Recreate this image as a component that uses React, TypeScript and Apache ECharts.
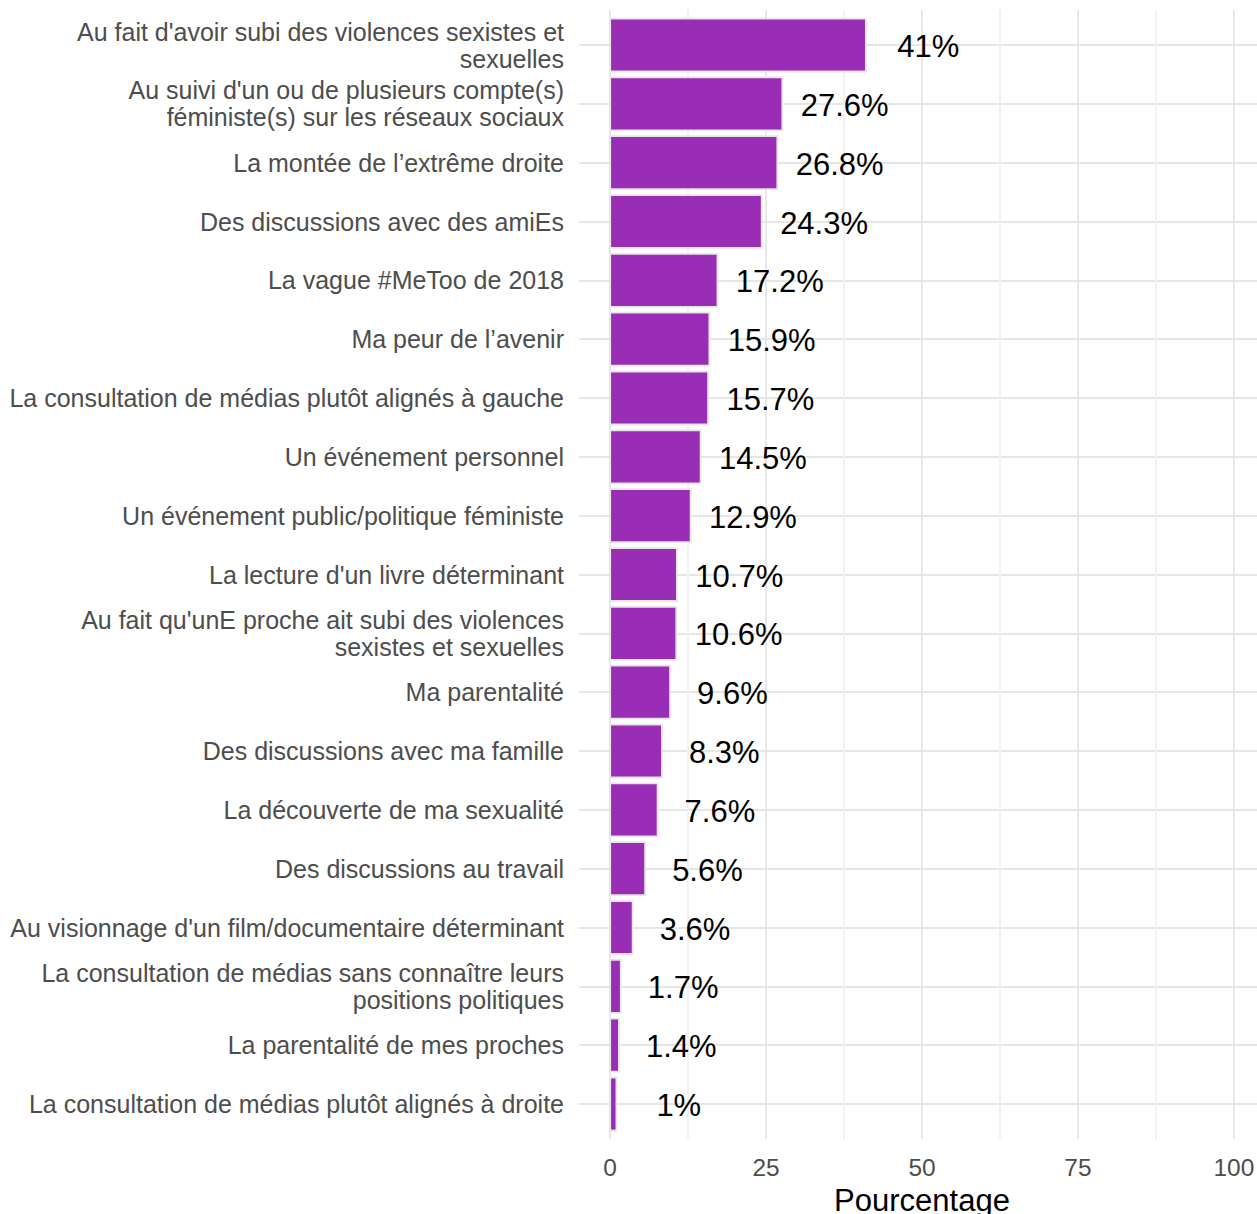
import React, { useEffect, useRef } from "react";
import * as echarts from "echarts";

const categories: string[] = [
  "Au fait d'avoir subi des violences sexistes et\nsexuelles",
  "Au suivi d'un ou de plusieurs compte(s)\nféministe(s) sur les réseaux sociaux",
  "La montée de l’extrême droite",
  "Des discussions avec des amiEs",
  "La vague #MeToo de 2018",
  "Ma peur de l’avenir",
  "La consultation de médias plutôt alignés à gauche",
  "Un événement personnel",
  "Un événement public/politique féministe",
  "La lecture d'un livre déterminant",
  "Au fait qu'unE proche ait subi des violences\nsexistes et sexuelles",
  "Ma parentalité",
  "Des discussions avec ma famille",
  "La découverte de ma sexualité",
  "Des discussions au travail",
  "Au visionnage d'un film/documentaire déterminant",
  "La consultation de médias sans connaître leurs\npositions politiques",
  "La parentalité de mes proches",
  "La consultation de médias plutôt alignés à droite",
];

const values: number[] = [
  41, 27.6, 26.8, 24.3, 17.2, 15.9, 15.7, 14.5, 12.9, 10.7, 10.6, 9.6, 8.3, 7.6,
  5.6, 3.6, 1.7, 1.4, 1,
];

const xMajorTicks: number[] = [0, 25, 50, 75, 100];
const xGridTicks: number[] = [0, 12.5, 25, 37.5, 50, 62.5, 75, 87.5, 100];
const yPositions: number[] = categories.map((_, i) => i + 1);

const LABEL_NUDGE = 10;
const FONT = "'Liberation Sans', Arial, sans-serif";

export default function App() {
  const ref = useRef<HTMLDivElement>(null);

  useEffect(() => {
    if (!ref.current) return;
    const chart = echarts.init(ref.current, undefined, { renderer: "svg" });
    const data = values.map((v, i) => [v, yPositions[i]]);
    chart.setOption({
      animation: false,
      backgroundColor: "#ffffff",
      textStyle: { fontFamily: FONT },
      grid: {
        left: 579,
        right: -8,
        top: 9.7,
        bottom: 74.7,
        containLabel: false,
        outerBoundsMode: "none",
      },
      xAxis: {
        type: "value",
        min: -5,
        max: 105,
        name: "Pourcentage",
        nameLocation: "middle",
        nameGap: 42,
        nameTextStyle: { fontSize: 31, color: "#000000", fontFamily: FONT },
        axisLine: { show: false },
        axisTick: { show: false, customValues: xGridTicks },
        axisLabel: {
          customValues: xMajorTicks,
          fontSize: 24.5,
          color: "#4d4d4d",
          margin: 16,
          fontFamily: FONT,
        },
        splitLine: {
          show: true,
          lineStyle: { color: ["#e6e6e6", "#f1f1f1"], width: 1.8 },
        },
      },
      yAxis: {
        type: "value",
        inverse: true,
        min: 0.4,
        max: 19.6,
        axisLine: { show: false },
        axisTick: { show: false, customValues: yPositions },
        axisLabel: {
          customValues: yPositions,
          formatter: (v: number) => categories[Math.round(v) - 1] ?? "",
          fontSize: 25,
          lineHeight: 27,
          color: "#4d4d4d",
          align: "right",
          margin: 15,
          fontFamily: FONT,
        },
        splitLine: {
          show: true,
          lineStyle: { color: "#e6e6e6", width: 1.8 },
        },
      },
      series: [
        {
          type: "custom",
          data,
          encode: { x: 0, y: 1 },
          renderItem: (params: any, api: any) => {
            const v = api.value(0);
            const y = api.value(1);
            const start = api.coord([0, y]);
            const end = api.coord([v, y]);
            const bandH = api.size([0, 1])[1] * 0.9;
            const labelPos = api.coord([v + LABEL_NUDGE, y]);
            return {
              type: "group",
              children: [
                {
                  type: "rect",
                  shape: {
                    x: start[0],
                    y: start[1] - bandH / 2,
                    width: end[0] - start[0],
                    height: bandH,
                  },
                  style: { fill: "#9a2db6", stroke: "#e6e6e6", lineWidth: 1.8 },
                },
                {
                  type: "text",
                  style: {
                    text: `${v}%`,
                    x: labelPos[0],
                    y: labelPos[1] + 1.5,
                    textAlign: "center",
                    textVerticalAlign: "middle",
                    fontSize: 31,
                    fontFamily: FONT,
                    fill: "#000000",
                  },
                },
              ],
            };
          },
        },
      ],
    });
    return () => chart.dispose();
  }, []);

  return (
    <div
      ref={ref}
      style={{ position: "fixed", left: 0, top: 0, width: 1257, height: 1214 }}
    />
  );
}
